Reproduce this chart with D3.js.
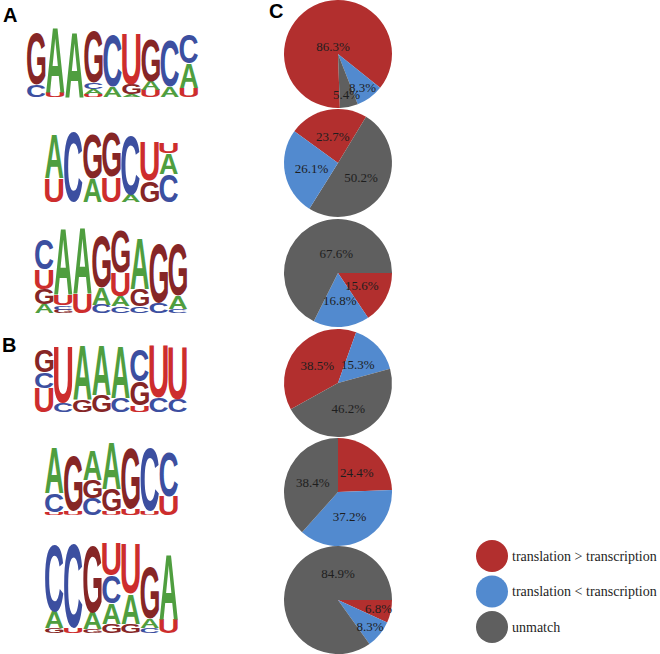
<!DOCTYPE html>
<html><head><meta charset="utf-8">
<script src="https://cdn.jsdelivr.net/npm/d3@7"></script>
<style>body{margin:0;background:#fff}svg{display:block}</style>
</head><body>
<svg id="chart" width="660" height="654"></svg>
<script>
// ---------- DATA ----------
// sequence logos: each column lists letters bottom -> top with relative height (fraction of logo height)
const logoA1 = [[["C",.17],["G",.73]],[["U",.07],["A",.93]],[["A",.93]],[["U",.04],["A",.07],["C",.1],["G",.73]],[["A",.14],["C",.73]],[["A",.04],["G",.14],["U",.73]],[["U",.1],["A",.12],["G",.6]],[["A",.15],["C",.65]],[["U",.13],["A",.35],["C",.42]]];
const logoA2 = [[["U",.34],["A",.63]],[["C",1.0]],[["A",.34],["G",.63]],[["U",.36],["G",.63]],[["A",.1],["C",.85]],[["G",.3],["U",.55]],[["C",.4],["A",.3],["U",.15]]];
const logoA3 = [[["A",.1],["G",.18],["U",.23],["C",.35]],[["G",.04],["C",.05],["U",.12],["A",.78]],[["U",.22],["A",.78]],[["C",.1],["A",.2],["G",.6]],[["C",.08],["A",.12],["U",.28],["G",.5]],[["C",.08],["G",.2],["A",.6]],[["C",.12],["G",.7]],[["C",.05],["A",.15],["G",.6]]];
const logoB1 = [[["U",.35],["C",.22],["G",.33]],[["C",.14],["U",.8]],[["G",.17],["A",.78]],[["G",.25],["A",.72]],[["C",.2],["A",.75]],[["U",.1],["G",.35],["C",.45]],[["C",.2],["U",.75]],[["C",.18],["U",.75]]];
const logoB2 = [[["U",.04],["C",.25],["A",.6]],[["U",.05],["G",.73]],[["C",.22],["G",.25],["A",.4]],[["U",.05],["G",.3],["A",.62]],[["U",.08],["G",.8]],[["U",.05],["C",.85]],[["U",.25],["C",.6]]];
const logoB3 = [[["G",.05],["A",.18],["C",.72]],[["U",.05],["C",.9]],[["G",.04],["A",.18],["G",.72]],[["G",.1],["A",.22],["C",.3],["U",.35]],[["G",.1],["A",.32],["U",.53]],[["C",.05],["A",.1],["G",.55]],[["U",.15],["A",.7]]];

// pies: values in order [translation > transcription, translation < transcription, unmatch]
const categories = ["translation > transcription", "translation < transcription", "unmatch"];
const pie1 = [86.3, 8.3, 5.4];
const pie2 = [23.7, 26.1, 50.2];
const pie3 = [15.6, 16.8, 67.6];
const pie4 = [38.5, 15.3, 46.2];
const pie5 = [24.4, 37.2, 38.4];
const pie6 = [6.8, 8.3, 84.9];
const panelLabels = ["A", "B", "C"];

// ---------- LAYOUT / STYLE ----------
const letterColor = {A:"#4F9E3F", C:"#3C4FA0", G:"#862626", U:"#CD2D2D"};
const catColor = ["#B22F2E", "#528ACF", "#5F5F5F"];
const logoLayout = [
  {data:logoA1, x0:27, y0:27, h:70, cw:19},
  {data:logoA2, x0:45, y0:132, h:70, cw:19},
  {data:logoA3, x0:35, y0:228, h:85, cw:19},
  {data:logoB1, x0:35, y0:343, h:69, cw:19},
  {data:logoB2, x0:45, y0:440, h:75, cw:19},
  {data:logoB3, x0:45, y0:540, h:93, cw:19}
];
// bigLabel: optional placement [angleDeg, radiusFraction] for the dominant slice label
const pieLayout = [
  {data:pie1, cy:54,  order:[0,1,2], start:178, bigLabel:[-35, 0.16]},
  {data:pie2, cy:163, order:[0,2,1], start:306},
  {data:pie3, cy:273, order:[0,1,2], start:90,  bigLabel:[-5, 0.36]},
  {data:pie4, cy:383, order:[0,1,2], start:241},
  {data:pie5, cy:492, order:[0,1,2], start:0},
  {data:pie6, cy:600, order:[0,1,2], start:90,  bigLabel:[0, 0.5]}
];
const pieCx = 338, pieR = 54;

const svg = d3.select("#chart");

// ---------- LOGOS ----------
const cvs = document.createElement("canvas").getContext("2d");
const FONT = '"Liberation Sans", Arial, sans-serif';
cvs.font = `bold 100px ${FONT}`;
const metrics = {};
["A","C","G","U"].forEach(ch => {
  const m = cvs.measureText(ch);
  metrics[ch] = {l:m.actualBoundingBoxLeft, r:m.actualBoundingBoxRight, a:m.actualBoundingBoxAscent, d:m.actualBoundingBoxDescent};
});
function drawLetter(g, ch, x, y, w, h) {
  const m = metrics[ch];
  const gw = m.l + m.r, gh = m.a + m.d;
  g.append("text")
    .attr("transform", `translate(${x},${y}) scale(${w/gw},${h/gh}) translate(${m.l},${m.a})`)
    .attr("font-family", FONT).attr("font-weight", "bold").attr("font-size", 100)
    .attr("fill", letterColor[ch]).text(ch);
}
logoLayout.forEach(L => {
  const g = svg.append("g");
  const x = d3.scaleBand().domain(d3.range(L.data.length)).range([L.x0, L.x0 + L.cw * L.data.length]).paddingInner(0.04);
  const y = d3.scaleLinear().domain([0, 1]).range([L.y0 + L.h, L.y0]);
  L.data.forEach((col, i) => {
    let acc = 0;
    col.forEach(([ch, f]) => {
      const yb = y(acc), yt = y(acc + f);
      drawLetter(g, ch, x(i), yt, x.bandwidth(), yb - yt);
      acc += f;
    });
  });
});

// ---------- PANEL LABELS ----------
const panelPos = [[3, 22], [2, 352], [269, 18]];
panelLabels.forEach((t, i) => {
  svg.append("text").attr("x", panelPos[i][0]).attr("y", panelPos[i][1])
    .attr("font-family", FONT).attr("font-weight", "bold").attr("font-size", 20).attr("fill", "#000").text(t);
});

// ---------- PIES ----------
const arc = d3.arc().innerRadius(0).outerRadius(pieR);
pieLayout.forEach(P => {
  const vals = P.order.map(k => ({k, v:P.data[k]}));
  const start = P.start * Math.PI / 180;
  const arcs = d3.pie().value(d => d.v).sort(null).startAngle(start).endAngle(start + 2 * Math.PI)(vals);
  const g = svg.append("g").attr("transform", `translate(${pieCx},${P.cy})`);
  g.selectAll("path").data(arcs).join("path").attr("d", arc).attr("fill", d => catColor[d.data.k]);
  g.selectAll("text").data(arcs).join("text")
    .attr("transform", d => {
      const frac = d.data.v / 100;
      let rr, a;
      if (frac > 0.6 && P.bigLabel) {
        a = P.bigLabel[0] * Math.PI / 180; rr = P.bigLabel[1] * pieR;
      } else {
        rr = frac < 0.1 ? 0.77 * pieR : 0.5 * pieR;
        a = (d.startAngle + d.endAngle) / 2;
      }
      return `translate(${rr * Math.sin(a)},${-rr * Math.cos(a)})`;
    })
    .attr("text-anchor", "middle").attr("dy", "0.35em")
    .attr("font-family", '"Liberation Serif", "Times New Roman", serif').attr("font-size", 13)
    .attr("fill", "#1e1e1e").text(d => d3.format(".1f")(d.data.v) + "%");
});

// ---------- LEGEND ----------
const legY = d3.scalePoint().domain(categories).range([556, 627]);
const leg = svg.append("g");
leg.selectAll("circle").data(categories).join("circle")
  .attr("cx", 492).attr("cy", d => legY(d)).attr("r", 16).attr("fill", (d, i) => catColor[i]);
leg.selectAll("text").data(categories).join("text")
  .attr("x", 512).attr("y", d => legY(d)).attr("dy", "0.35em")
  .attr("font-family", '"Liberation Serif", "Times New Roman", serif').attr("font-size", 14)
  .attr("fill", "#1e1e1e").text(d => d);
</script>
</body></html>
